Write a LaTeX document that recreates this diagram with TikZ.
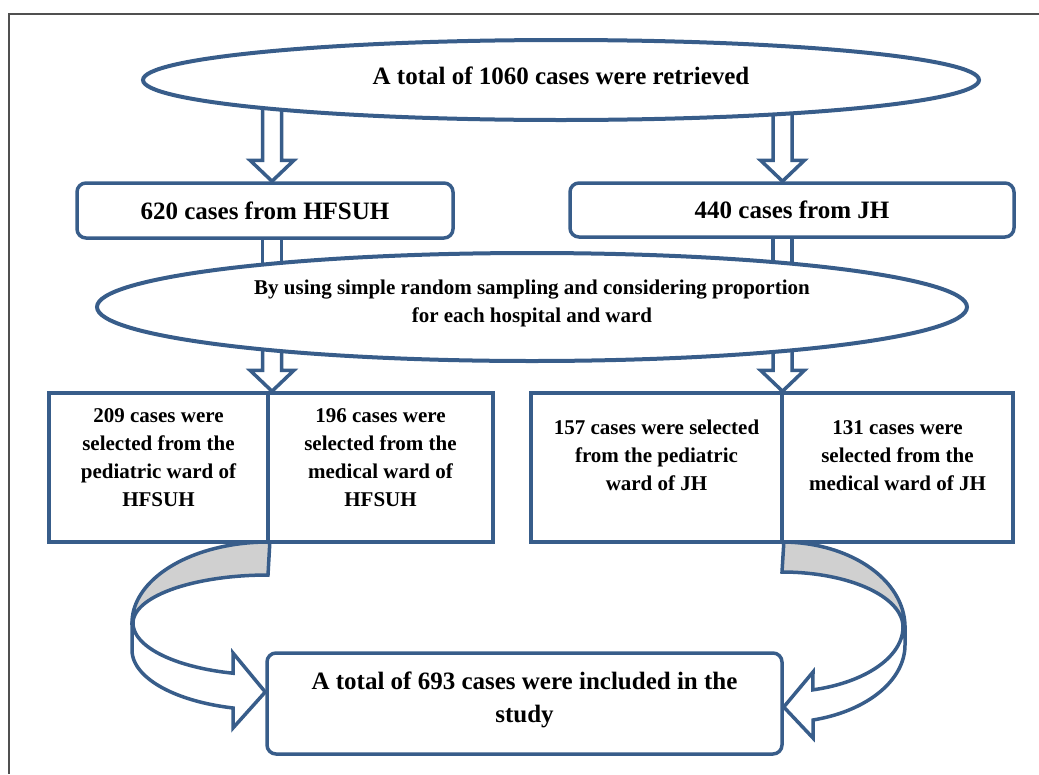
\documentclass[tikz,border=0pt]{standalone}
\usepackage{fontspec}
\setmainfont{Liberation Serif}
\usetikzlibrary{shapes.geometric,calc,backgrounds}
\definecolor{bl}{RGB}{56,93,138}
\definecolor{gr}{RGB}{208,208,208}
\definecolor{framec}{RGB}{80,80,80}
\begin{document}
\begin{tikzpicture}[x=1pt,y=-1pt,
  ell/.style={ellipse, draw=bl, line width=4pt, fill=white, inner sep=0pt},
  rbox/.style={rectangle, rounded corners=9pt, draw=bl, line width=3.5pt, fill=white, inner sep=0pt},
  cell/.style={rectangle, draw=bl, line width=3.5pt, fill=white, inner sep=0pt},
  big/.style={font=\bfseries\fontsize{25}{33}\selectfont},
  small/.style={font=\bfseries\fontsize{21}{28}\selectfont},
  blockarrow/.style={draw=bl, line width=3.5pt, fill=white, line join=miter},
  curv/.style={draw=bl, line width=3.5pt, line join=miter},
  pics/downarr/.style={code={\draw[blockarrow] (-9.5,-#1) -- (-9.5,-21) -- (-22,-21) -- (0,0) -- (22,-21) -- (9.5,-21) -- (9.5,-#1) -- cycle;}}
]
\useasboundingbox (0,0) rectangle (1039,774);
\draw[framec, line width=1.2pt] (1039,14) -- (9,14) -- (9,774);

% nodes
\node[ell, minimum width=836pt, minimum height=80pt, big, text depth=9pt] (e1) at (561,80) {A total of 1060 cases were retrieved};
\node[rbox, minimum width=376pt, minimum height=55pt, big] (b1) at (265,210.5) {620 cases from HFSUH};
\node[rbox, minimum width=444pt, minimum height=54pt, big] (b2) at (792,210) {440 cases from JH};
\node[ell, minimum width=870pt, minimum height=108pt, small, align=center, text depth=11pt] (e2) at (532,307) {By using simple random sampling and considering proportion\\for each hospital and ward};

\node[cell, minimum width=219pt, minimum height=149pt] (c1) at (158.5,467.5) {};
\node[cell, minimum width=225pt, minimum height=149pt] (c2) at (380.5,467.5) {};
\node[cell, minimum width=251pt, minimum height=149pt] (c3) at (656.5,467.5) {};
\node[cell, minimum width=231pt, minimum height=149pt] (c4) at (897.5,467.5) {};
\node[small, align=center] (t1) at ($(c1.center)+(0,-10)$) {209 cases were\\selected from the\\pediatric ward of\\HFSUH};
\node[small, align=center] (t2) at ($(c2.center)+(0,-10)$) {196 cases were\\selected from the\\medical ward of\\HFSUH};
\node[small, align=center] (t3) at ($(c3.center)+(0,-12)$) {157 cases were selected\\from the pediatric\\ward of JH};
\node[small, align=center] (t4) at ($(c4.center)+(0,-12)$) {131 cases were\\selected from the\\medical ward of JH};

\node[rbox, minimum width=515pt, minimum height=101pt, big, align=center, text depth=13pt] (f) at (524.5,703.5) {A total of 693 cases were included in the\\study};

\coordinate (xl) at (272,0);
\coordinate (xr) at (782.5,0);

\begin{scope}[on background layer]
  \pic at (xl |- b1.north) {downarr=102};
  \pic at (xr |- b2.north) {downarr=102};
  \draw[blockarrow] ($(xl |- b1.center)+(-9.5,0)$) rectangle ($(xl |- e2.center)+(9.5,0)$);
  \draw[blockarrow] ($(xr |- b2.center)+(-9.5,0)$) rectangle ($(xr |- e2.center)+(9.5,0)$);
  \pic at (xl |- c1.north) {downarr=86};
  \pic at (xr |- c3.north) {downarr=86};
\end{scope}

% left curved arrow
\draw[curv, fill=gr] (c1.south east) -- (268,575)
  -- plot[domain=90:180, samples=40] ({268+135*cos(\x)},{623-48*sin(\x)})
  -- plot[domain=180:90, samples=40] ({268+136*cos(\x)},{623-81*sin(\x)}) -- cycle;
\draw[curv, fill=white] (133,623)
  -- plot[domain=180:255, samples=40] ({268+135*cos(\x)},{623-52*sin(\x)})
  -- (233,653) -- (f.west |- 0,692) -- (233,728) -- (233,708)
  -- plot[domain=254.8:180, samples=40] ({268+136*cos(\x)},{650-60*sin(\x)})
  -- (132,623) -- cycle;

% right curved arrow
\draw[curv, fill=gr] (c3.south east) -- (782,572)
  -- plot[domain=90:0, samples=40] ({782+121*cos(\x)},{627-55*sin(\x)})
  -- plot[domain=0:90, samples=40] ({782+123*cos(\x)},{627-85*sin(\x)}) -- cycle;
\draw[curv, fill=white] (903,627)
  -- plot[domain=0:-75.2, samples=40] ({782+121*cos(\x)},{627-65*sin(\x)})
  -- (813,672) -- (f.east |- 0,707) -- (813,738) -- (813,720)
  -- plot[domain=-75.4:0, samples=40] ({782+123*cos(\x)},{645-77.5*sin(\x)})
  -- (905,627) -- cycle;
\end{tikzpicture}
\end{document}
